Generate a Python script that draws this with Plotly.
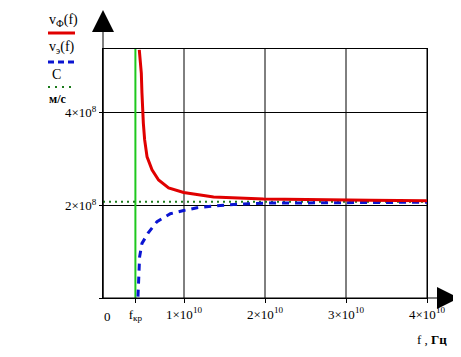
import plotly.graph_objects as go

# ---- data ----
f_phase = [0.448e10, 0.460e10, 0.473e10, 0.481e10, 0.489e10, 0.498e10, 0.514e10, 0.544e10, 0.605e10,
           0.686e10, 0.810e10, 0.995e10, 1.263e10, 1.365e10, 1.983e10, 2.596e10, 3.3e10, 4.0e10]
v_phase = [5.36e8, 5.15e8, 4.86e8, 4.43e8, 4.03e8, 3.78e8, 3.42e8, 3.05e8, 2.77e8,
           2.55e8, 2.38e8, 2.28e8, 2.21e8, 2.18e8, 2.14e8, 2.12e8, 2.11e8, 2.10e8]
f_group = [0.432e10, 0.436e10, 0.440e10, 0.452e10, 0.481e10, 0.556e10, 0.667e10, 0.831e10, 0.995e10,
           1.160e10, 1.448e10, 1.695e10, 2.02e10, 2.60e10, 3.3e10, 4.0e10]
v_group = [0.03e8, 0.25e8, 0.39e8, 0.89e8, 1.18e8, 1.40e8, 1.65e8, 1.82e8, 1.89e8,
           1.95e8, 2.00e8, 2.03e8, 2.05e8, 2.06e8, 2.065e8, 2.07e8]
c_value = 2.08e8
f_kr = 0.4e10
x_range = [0, 4e10]
y_range = [0, 5.38e8]
x_tickvals = [f_kr, 1e10, 2e10, 3e10, 4e10]
x_ticktext = ["f<sub>кр</sub>", "1×10<sup>10</sup>", "2×10<sup>10</sup>", "3×10<sup>10</sup>", "4×10<sup>10</sup>"]
x_grid = [0, 1e10, 2e10, 3e10, 4e10]
y_tickvals = [0, 2e8, 4e8]
y_ticktext = ["", "2×10<sup>8</sup>", "4×10<sup>8</sup>"]

# page body has an 8px margin; compensate so the plot lands where the reference has it
OFF = 8
W, H = 461 - OFF, 357 - OFF
PL, PR, PT, PB = 103, 427, 49, 298   # plot box in window pixels
PW, PH = PR - PL, PB - PT
L, T = PL - OFF, PT - OFF
R, B = W - L - PW, H - T - PH


def px(x):
    return (x - PL) / PW


def py(y):
    return (PB - y) / PH


FONT = "Liberation Serif, Times New Roman, serif"

fig = go.Figure()
fig.add_trace(go.Scatter(x=[f_kr, f_kr], y=y_range, mode="lines",
                         line=dict(color="#1ec81e", width=2), hoverinfo="skip"))
fig.add_trace(go.Scatter(x=x_range, y=[c_value, c_value], mode="lines",
                         line=dict(color="#1b7a1b", width=2, dash="2px,4px"), hoverinfo="skip"))
fig.add_trace(go.Scatter(x=f_group, y=v_group, mode="lines",
                         line=dict(color="#0a14d2", width=3, dash="7px,6px"), hoverinfo="skip"))
fig.add_trace(go.Scatter(x=f_phase, y=v_phase, mode="lines",
                         line=dict(color="#e00000", width=3), hoverinfo="skip"))

shapes = []
for g in x_grid:
    shapes.append(dict(type="line", xref="x", yref="paper", x0=g, x1=g, y0=0, y1=1,
                       line=dict(color="black", width=1), layer="below"))
shapes.append(dict(type="line", xref="paper", yref="paper", x0=0, x1=0, y0=0, y1=py(26),
                   line=dict(color="black", width=1)))
shapes.append(dict(type="line", xref="paper", yref="paper", x0=0, x1=px(444), y0=0, y1=0,
                   line=dict(color="black", width=1)))
shapes.append(dict(type="line", xref="paper", yref="paper", x0=px(48), x1=px(75), y0=py(33), y1=py(33),
                   line=dict(color="#e00000", width=3)))
shapes.append(dict(type="line", xref="paper", yref="paper", x0=px(48), x1=px(76), y0=py(62), y1=py(62),
                   line=dict(color="#0a14d2", width=3, dash="6px,4px")))
shapes.append(dict(type="line", xref="paper", yref="paper", x0=px(48), x1=px(73), y0=py(87), y1=py(87),
                   line=dict(color="#1b7a1b", width=2, dash="2px,5px")))

annotations = []


def txt(t, x, y, size=14, xanchor="left"):
    annotations.append(dict(text=t, xref="paper", yref="paper", x=px(x), y=py(y), showarrow=False,
                            xanchor=xanchor, yanchor="middle", font=dict(family=FONT, size=size, color="black")))


txt("v<sub>Ф</sub>(f)", 47, 20)
txt("v<sub>э</sub>(f)", 47, 48)
txt("C", 50, 74)
txt("<b>м/с</b>", 47, 99, size=12)
txt("0", 107, 316, size=13, xanchor="center")
txt("f , <b>Гц</b>", 432, 340, size=13, xanchor="center")

# arrow heads as annotation arrows
annotations.append(dict(text="", xref="paper", yref="paper", x=px(103), y=py(10), ax=0, ay=22,
                        showarrow=True, arrowhead=2, arrowsize=2.2, arrowwidth=2, arrowcolor="black",
                        standoff=0))
annotations.append(dict(text="", xref="paper", yref="paper", x=px(459), y=py(298), ax=-22, ay=0,
                        showarrow=True, arrowhead=2, arrowsize=2.2, arrowwidth=2, arrowcolor="black",
                        standoff=0))

fig.update_layout(
    width=W, height=H, margin=dict(l=L, r=R, t=T, b=B, autoexpand=False),
    paper_bgcolor="white", plot_bgcolor="white", showlegend=False,
    shapes=shapes, annotations=annotations,
    font=dict(family=FONT, size=13, color="black"),
    xaxis=dict(range=x_range, tickvals=x_tickvals, ticktext=x_ticktext, showgrid=False,
               zeroline=False, showline=True, linecolor="black", linewidth=1, mirror=True,
               ticks="outside", ticklen=4, tickcolor="black", automargin=False,
               tickfont=dict(family=FONT, size=13, color="black")),
    yaxis=dict(range=y_range, tickvals=y_tickvals, ticktext=y_ticktext, showgrid=True,
               gridcolor="black", gridwidth=1, zeroline=False, showline=True, linecolor="black",
               linewidth=1, mirror=True, ticks="outside", ticklen=3, tickcolor="black", automargin=False,
               tickfont=dict(family=FONT, size=13, color="black")),
)

fig.write_html("out.html")
